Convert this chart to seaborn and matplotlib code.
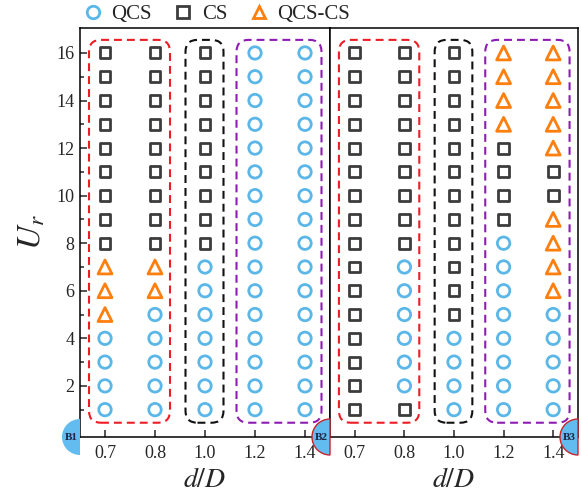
import matplotlib
matplotlib.use("Agg")
import matplotlib.pyplot as plt
import matplotlib.transforms as mtransforms
from matplotlib.patches import FancyBboxPatch, Wedge
from matplotlib.lines import Line2D
import pandas as pd
import seaborn as sns

# ---- data -------------------------------------------------------------
ur = [1, 2, 3, 4, 5, 6, 7, 8, 9, 10, 11, 12, 13, 14, 15, 16]
d_ratio = ["0.7", "0.8", "1.0", "1.2", "1.4"]

# Flow regime for Ur = 1..16 (O: QCS, S: CS, T: QCS-CS)
b1_d07 = "OOOOTTTSSSSSSSSS"
b1_d08 = "OOOOOTTSSSSSSSSS"
b1_d10 = "OOOOOOOSSSSSSSSS"
b1_d12 = "OOOOOOOOOOOOOOOO"
b1_d14 = "OOOOOOOOOOOOOOOO"

b2_d07 = "SSSSSSSSSSSSSSSS"
b2_d08 = "SOOOOOOSSSSSSSSS"
b2_d10 = "OOOOSSSSSSSSSSSS"
b2_d12 = "OOOOOOOOSSSSTTTT"
b2_d14 = "OOOOOTTTTSSTTTTT"

regime_names = {"O": "QCS", "S": "CS", "T": "QCS-CS"}

# ---- style ------------------------------------------------------------
sns.set_style("ticks")
plt.rcParams["font.family"] = ["Liberation Serif", "DejaVu Serif"]
plt.rcParams["mathtext.fontset"] = "stix"

styles = {
    "QCS": dict(marker="o", color="#5BB7E8", s=80),
    "CS": dict(marker="s", color="#3C3C3C", s=62),
    "QCS-CS": dict(marker="^", color="#FF7F0E", s=100),
}


def to_frame(columns):
    rows = []
    for xi, states in enumerate(columns):
        for u, code in zip(ur, states):
            rows.append({"pos": xi, "Ur": u, "regime": regime_names[code]})
    return pd.DataFrame(rows)


panels = [
    ("B1", to_frame([b1_d07, b1_d08, b1_d10, b1_d12, b1_d14])),
    ("B2", to_frame([b2_d07, b2_d08, b2_d10, b2_d12, b2_d14])),
]

W, H = 581, 496
fig = plt.figure(figsize=(W / 100, H / 100), dpi=100)
bottom = 59 / H
height = 409 / H
ax1 = fig.add_axes([80 / W, bottom, 250 / W, height])
ax2 = fig.add_axes([330 / W, bottom, 248 / W, height])
axes = [ax1, ax2]

# dashed group frames: (x0, x1, colour)
frames = [(-0.32, 1.30, "#EE1C25"), (1.61, 2.37, "#111111"), (2.63, 4.33, "#8E1CB3")]

for ax, (name, df) in zip(axes, panels):
    for reg, st in styles.items():
        sub = df[df["regime"] == reg]
        if sub.empty:
            continue
        sns.scatterplot(data=sub, x="pos", y="Ur", ax=ax, marker=st["marker"],
                        s=st["s"], color=st["color"], facecolor="none",
                        edgecolor=st["color"], linewidth=2.0, zorder=3)
    for x0, x1, c in frames:
        box = FancyBboxPatch((x0, 0.45), x1 - x0, 16.55 - 0.45,
                             boxstyle="round,pad=0,rounding_size=0.24",
                             mutation_aspect=2.1, fill=False, edgecolor=c,
                             linewidth=1.5, linestyle=(0, (3.8, 2.4)), zorder=2)
        ax.add_patch(box)
    ax.set_xlim(-0.5, 4.5)
    ax.set_ylim(-0.15, 17.05)
    ax.set_xticks(range(len(d_ratio)))
    ax.set_xticklabels(d_ratio)
    ax.set_xlabel("$d/D$", fontsize=20, labelpad=4)
    ax.set_ylabel("")
    for sp in ax.spines.values():
        sp.set_visible(True)
        sp.set_linewidth(1.1)
        sp.set_color("black")
    ax.tick_params(axis="x", direction="in", length=5, width=1.1,
                   labelsize=13, pad=6, top=False)
    ax.set_facecolor("white")

ax1.set_yticks([2, 4, 6, 8, 10, 12, 14, 16])
ax1.set_yticks([1, 3, 5, 7, 9, 11, 13, 15], minor=True)
ax1.tick_params(axis="y", which="major", direction="in", length=5, width=1.1,
                labelsize=13, pad=4)
ax1.tick_params(axis="y", which="minor", direction="in", length=3, width=1.1)
ax1.set_ylabel("$U_r$", fontsize=24, labelpad=6)
ax2.tick_params(axis="y", which="both", left=False, labelleft=False)
ax2.set_yticks([])

# panel badges on the lower-left corners
badges = [(ax1, 0, "B1", "none"), (ax2, 0, "B2", "#C8262C"), (ax2, 1, "B3", "#C8262C")]
for ax, xa, label, ec in badges:
    tr = fig.dpi_scale_trans + mtransforms.ScaledTranslation(xa, 0, ax.transAxes)
    w = Wedge((0, 0), 0.18, 90, 270, facecolor="#62BCF0", edgecolor=ec,
              linewidth=1.0, transform=tr, zorder=10)
    fig.add_artist(w)
    fig.text(-0.085, 0.0, label, transform=tr, ha="center", va="center",
             fontsize=8, fontweight="bold", color="#1B2440", zorder=11)

handles = [Line2D([], [], linestyle="none", marker=st["marker"], markersize=9,
                  markerfacecolor="none", markeredgecolor=st["color"],
                  markeredgewidth=2.0) for st in styles.values()]
fig.legend(handles, list(styles.keys()), loc="center", bbox_to_anchor=(0.372, 0.971),
           ncol=3, frameon=False, fontsize=15, handletextpad=0.4,
           columnspacing=1.0, handlelength=1.0)

fig.savefig("out.png", dpi=100)
